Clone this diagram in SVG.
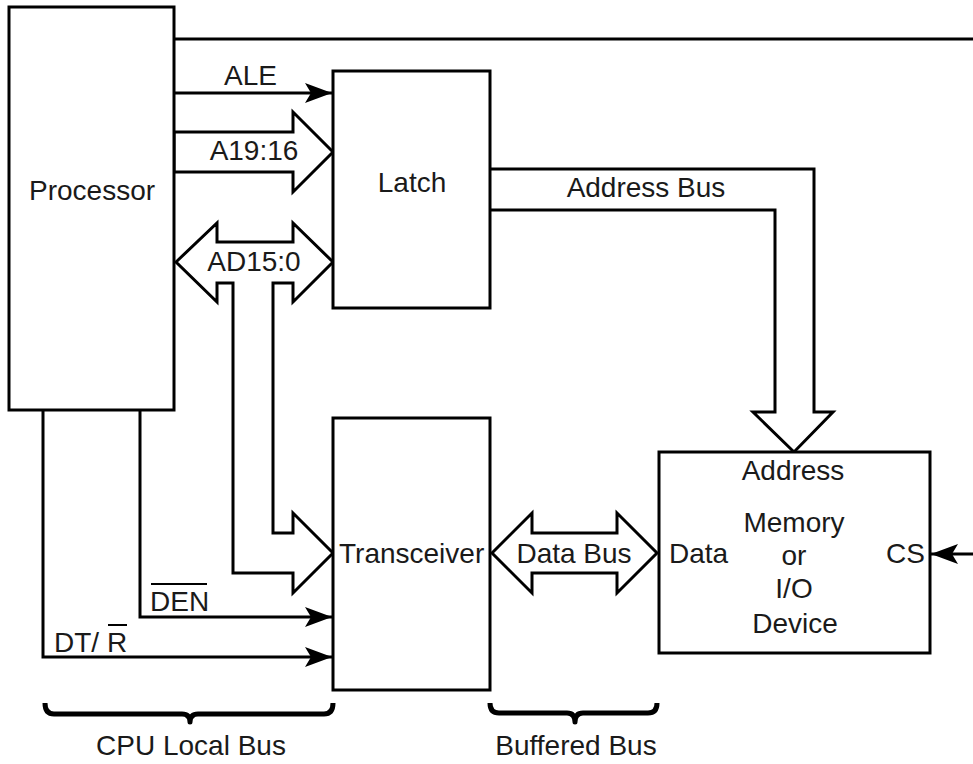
<svg xmlns="http://www.w3.org/2000/svg" width="973" height="764" viewBox="0 0 973 764">
<style>
.box{fill:#fff;stroke:#000;stroke-width:3}
.ln{fill:none;stroke:#000;stroke-width:3}
.bus{fill:#fff;stroke:#000;stroke-width:3;stroke-linejoin:miter}
.br{fill:none;stroke:#000;stroke-width:5;stroke-linejoin:round}
text{font-family:"Liberation Sans",Arial,sans-serif;font-size:28px;fill:#1a1a1a}
.m{text-anchor:middle}
</style>
<defs>
<marker id="ah" markerUnits="userSpaceOnUse" markerWidth="32" markerHeight="24" viewBox="-30 -12 32 24" refX="0" refY="0" orient="auto">
<path d="M-27,-10 L0,0 L-27,10 L-21,0 z" fill="#000"/>
</marker>
</defs>
<rect width="973" height="764" fill="#fff"/>
<g id="connectors">
<line class="ln" x1="174" y1="39" x2="973" y2="39"/>
<line class="ln" x1="174" y1="93" x2="332" y2="93" marker-end="url(#ah)"/>
<polygon class="bus" points="174,132 293,132 293,112 333,152 293,192 293,172 174,172"/>
<polygon class="bus" points="176,262 217,223 217,242 293,242 293,223 333,262 293,302 293,283 273,283 273,533 293,533 293,513 333,553 293,593 293,573 233,573 233,283 217,283 217,302"/>
<polyline class="bus" points="490,169 814,169 814,412 833,412 794,452 753,412 775,412 775,210 490,210"/>
<polygon class="bus" points="492,553 532,513 532,533 617,533 617,513 657,553 617,593 617,573 532,573 532,593"/>
<polyline class="ln" points="140,410 140,617 332,617" marker-end="url(#ah)"/>
<polyline class="ln" points="43,410 43,657 332,657" marker-end="url(#ah)"/>
<line class="ln" x1="973" y1="554" x2="931" y2="554" marker-end="url(#ah)"/>
<path class="br" d="M45,703 Q45,714 54,714 L182,714 Q190,714 190,722 Q190,714 198,714 L324,714 Q333,714 333,703"/>
<path class="br" d="M490,703 Q490,713 499,713 L567,713 Q575,713 575,722 Q575,713 583,713 L648,713 Q657,713 657,703"/>
</g>
<g id="processor">
<rect class="box" x="9" y="7" width="165" height="403"/>
<text x="29" y="200">Processor</text>
</g>
<g id="latch">
<rect class="box" x="333" y="71" width="157" height="237"/>
<text class="m" x="412" y="192">Latch</text>
</g>
<g id="transceiver">
<rect class="box" x="333" y="418" width="157" height="272"/>
<text x="339" y="563">Transceiver</text>
</g>
<g id="memory">
<rect class="box" x="659" y="452" width="271" height="201"/>
<text class="m" x="793" y="480">Address</text>
<text class="m" x="794" y="532">Memory</text>
<text class="m" x="794" y="565">or</text>
<text class="m" x="794" y="598">I/O</text>
<text class="m" x="795" y="633">Device</text>
<text x="669" y="563">Data</text>
<text x="886" y="563">CS</text>
</g>
<g id="labels">
<text x="224" y="85">ALE</text>
<text class="m" x="254" y="160">A19:16</text>
<text class="m" x="254" y="271">AD15:0</text>
<text class="m" x="646" y="197">Address Bus</text>
<text class="m" x="574" y="563">Data Bus</text>
<text x="150" y="611">DEN</text>
<line x1="151" y1="584" x2="207" y2="584" stroke="#000" stroke-width="2"/>
<text x="54" y="652">DT/ R</text>
<line x1="108" y1="625" x2="127" y2="625" stroke="#000" stroke-width="2"/>
<text class="m" x="191" y="755">CPU Local Bus</text>
<text class="m" x="576" y="755">Buffered Bus</text>
</g>
</svg>
